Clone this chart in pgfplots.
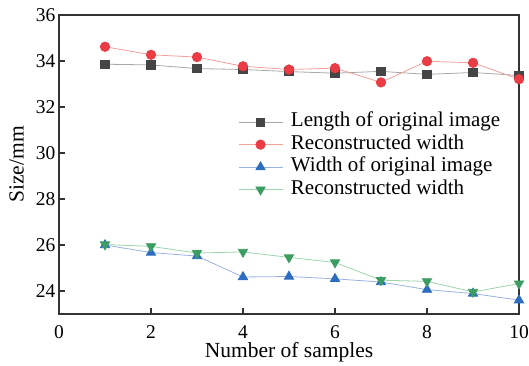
\documentclass[border=0pt]{standalone}
\usepackage{pgfplots}
\pgfplotsset{compat=1.18}
\usepackage{fontspec}
\setmainfont{Liberation Serif}
\definecolor{gmk}{HTML}{454545}
\definecolor{gln}{HTML}{A8A8A8}
\definecolor{rmk}{HTML}{EA3C44}
\definecolor{rln}{HTML}{F4A09A}
\definecolor{bmk}{HTML}{2C6DC0}
\definecolor{bln}{HTML}{9AB2E2}
\definecolor{vmk}{HTML}{3C9C62}
\definecolor{vln}{HTML}{9CD4AE}
\begin{document}
\begin{tikzpicture}
\begin{axis}[
  scale only axis, width=460pt, height=299pt,
  xmin=0, xmax=10, ymin=23, ymax=36,
  xtick={0,2,4,6,8,10}, ytick={24,26,28,30,32,34,36},
  tick align=inside, tick pos=left,
  major tick length=6pt,
  axis line style={draw=black!80, line width=1.1pt},
  every tick/.style={black!80, line width=1.1pt},
  /pgf/number format/assume math mode=true,
  tick label style={font=\rmfamily\fontsize{19.5}{22}\selectfont},
  xticklabel style={anchor=base, yshift=-24.5pt},
  label style={font=\rmfamily\fontsize{21.5}{24}\selectfont},
  xlabel={Number of samples}, ylabel={Size/mm},
  xlabel style={at={(axis description cs:0.5,0)}, anchor=base, yshift=-43pt},
  ylabel style={at={(axis description cs:-0.0924,0.5)}, anchor=center},
  legend style={draw=none, fill=none, at={(0.389,0.68)}, anchor=north west,
    font=\rmfamily\fontsize{21}{23}\selectfont, row sep=0pt, column sep=8pt,
    inner sep=0pt, nodes={inner sep=0pt, text height=16pt, text depth=6.5pt}},
  legend cell align=left,
  legend image code/.code={\draw[#1, mark repeat=2, mark phase=2] plot coordinates {(0pt,0pt)(22pt,0pt)(44pt,0pt)};},
]
\addplot[gln, line width=0.8pt, mark=square*, mark size=4.2pt, mark options={draw=gmk, fill=gmk}]
coordinates {(1,33.86)(2,33.83)(3,33.67)(4,33.63)(5,33.54)(6,33.47)(7,33.55)(8,33.42)(9,33.50)(10,33.37)};
\addlegendentry{Length of original image}
\addplot[rln, line width=0.8pt, mark=*, mark size=4.7pt, mark options={draw=rmk, fill=rmk}]
coordinates {(1,34.62)(2,34.27)(3,34.17)(4,33.77)(5,33.63)(6,33.69)(7,33.07)(8,33.99)(9,33.92)(10,33.21)};
\addlegendentry{Reconstructed width}
\addplot[bln, line width=0.8pt, mark=triangle*, mark size=5.3pt, mark options={draw=bmk, fill=bmk}]
coordinates {(1,26.0)(2,25.67)(3,25.52)(4,24.61)(5,24.63)(6,24.53)(7,24.39)(8,24.06)(9,23.89)(10,23.6)};
\addlegendentry{Width of original image}
\addplot[vln, line width=0.8pt, mark=triangle*, mark size=5.3pt, mark options={draw=vmk, fill=vmk, rotate=180}]
coordinates {(1,26.02)(2,25.94)(3,25.65)(4,25.70)(5,25.46)(6,25.24)(7,24.47)(8,24.42)(9,23.96)(10,24.32)};
\addlegendentry{Reconstructed width}
\end{axis}
\pgfresetboundingbox
\path (current axis.south west) ++(-59pt,-51pt) rectangle ++(529pt,365pt);
\end{tikzpicture}
\end{document}
